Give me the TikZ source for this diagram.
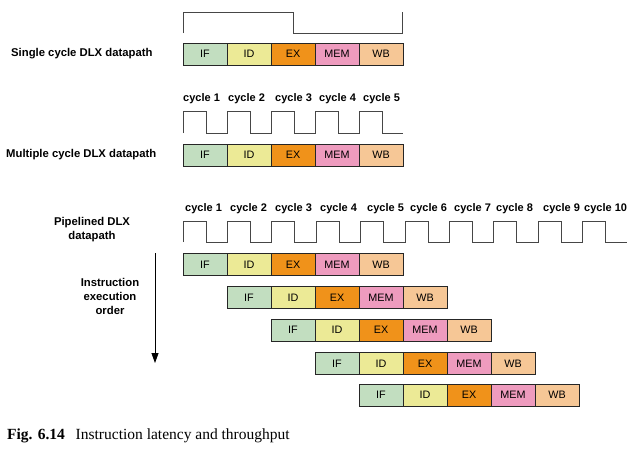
\documentclass[tikz,border=0pt]{standalone}
\usepackage{fontspec}
\setmainfont{Liberation Serif}
\setsansfont{Liberation Sans}
\usetikzlibrary{arrows.meta}
\definecolor{cIF}{RGB}{194,222,192}
\definecolor{cID}{RGB}{236,234,150}
\definecolor{cEX}{RGB}{240,146,26}
\definecolor{cMEM}{RGB}{238,155,190}
\definecolor{cWB}{RGB}{246,199,150}
\definecolor{wavegray}{RGB}{70,70,70}
\tikzset{
  stage/.style={draw=black!85, line width=0.8pt, minimum width=44pt, minimum height=22pt,
    inner sep=0pt, outer sep=0pt, anchor=west, font=\sffamily\fontsize{10.8}{12}\selectfont},
  lbl/.style={font=\sffamily\bfseries\fontsize{11.3}{14}\selectfont, inner sep=0pt},
  cyc/.style={font=\sffamily\bfseries\fontsize{11}{13}\selectfont, inner sep=0pt, anchor=west},
  wave/.style={draw=wavegray, line width=0.8pt},
}
\newcommand\stagerow[3]{%
  \node[stage, fill=cIF] (#1IF) at (#2,#3) {IF};
  \node[stage, fill=cID] (#1ID) at (#1IF.east) {ID};
  \node[stage, fill=cEX] (#1EX) at (#1ID.east) {EX};
  \node[stage, fill=cMEM] (#1MEM) at (#1EX.east) {MEM};
  \node[stage, fill=cWB] (#1WB) at (#1MEM.east) {WB};
}
\begin{document}
\begin{tikzpicture}[x=1pt,y=-1pt]
\useasboundingbox (0,0) rectangle (631,471);

% single cycle
\draw[wave] (183,33) -- (183,12) -- (293,12) -- (293,33) -- (402,33) -- (402,12);
\node[lbl, anchor=west] (lsingle) at (11,54) {Single cycle DLX datapath};
\stagerow{s}{183}{54}

% multiple cycle
\foreach \x [count=\i] in {183,228,275,319,363}
  \node[cyc] (mc\i) at (\x,99) {cycle \i};
\draw[wave] (183,133) foreach \k in {1,...,5} { -- ++(0,-22) -- ++(23,0) -- ++(0,22) -- ++(21,0) };
\node[lbl, anchor=west] (lmulti) at (6,155) {Multiple cycle DLX datapath};
\stagerow{m}{183}{155}

% pipelined
\foreach \x [count=\i] in {185,230,275,320,367,410,454,496,543,584}
  \node[cyc] (pc\i) at (\x,209) {cycle \i};
\draw[wave] (183,242) foreach \k in {1,...,10} { -- ++(0,-21) -- ++(23,0) -- ++(0,21) -- ++(21.4,0) };
\node[lbl, align=center] (lpipe) at (92,230) {Pipelined DLX\\datapath};
\node[lbl, align=center] (lorder) at (110,296) {Instruction\\execution\\order};
\coordinate (arrS) at (155,253);
\coordinate (arrE) at (155,363);
\draw[-{Triangle[length=10pt,width=7pt]}, line width=0.8pt] (arrS) -- (arrE);

\stagerow{a}{183}{264.5}
\stagerow{b}{227}{297.5}
\stagerow{c}{271}{330}
\stagerow{d}{315}{363.5}
\stagerow{e}{359}{395}

% caption
\node[anchor=west, inner sep=0pt, font=\fontsize{15.5}{17}\selectfont] (cap) at (7,436)
  {\textbf{Fig. 6.14}\hspace{0.7em}Instruction latency and throughput};
\end{tikzpicture}
\end{document}
